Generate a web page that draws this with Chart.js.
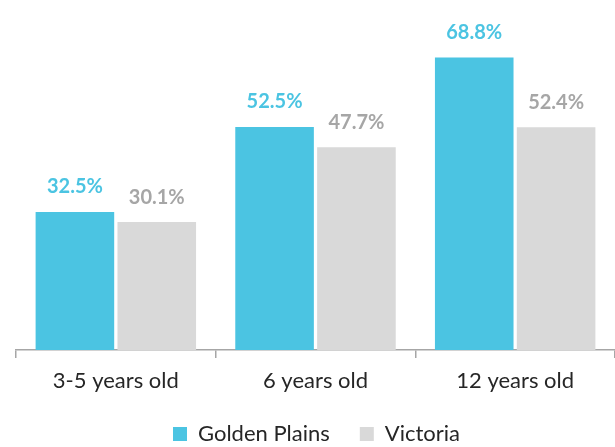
<!DOCTYPE html>
<html><head><meta charset="utf-8">
<script src="https://cdn.jsdelivr.net/npm/chart.js@4"></script>
<style>html,body{margin:0;padding:0;background:#fff}</style>
</head><body>
<canvas id="c" width="615" height="447"></canvas>
<script>
const categories = ["3-5 years old", "6 years old", "12 years old"];
const goldenPlains = [32.5, 52.5, 68.8];
const victoria = [30.1, 47.7, 52.4];
const seriesNames = ["Golden Plains", "Victoria"];

const valueLabels = {
  id: 'valueLabels',
  afterDatasetsDraw(chart) {
    const ctx = chart.ctx;
    chart.data.datasets.forEach((ds, i) => {
      const meta = chart.getDatasetMeta(i);
      meta.data.forEach((bar, j) => {
        ctx.save();
        ctx.font = 'bold 20px Lato';
        ctx.fillStyle = ds.labelColor;
        ctx.textAlign = 'center';
        ctx.textBaseline = 'middle';
        ctx.fillText(ds.data[j].toFixed(1) + '%', bar.x, bar.y - 25);
        ctx.restore();
      });
    });
  }
};

new Chart(document.getElementById('c'), {
  type: 'bar',
  data: {
    labels: categories,
    datasets: [
      { label: seriesNames[0], data: goldenPlains, backgroundColor: '#4bc4e2', labelColor: '#4bc4e2',
        categoryPercentage: 0.82, barPercentage: 0.96 },
      { label: seriesNames[1], data: victoria, backgroundColor: '#d9d9d9', labelColor: '#a6a6a6',
        categoryPercentage: 0.82, barPercentage: 0.96 }
    ]
  },
  options: {
    responsive: false,
    animation: false,
    layout: { padding: { left: 16, right: -2, top: 10, bottom: -8 } },
    plugins: {
      legend: {
        position: 'bottom',
        labels: { boxWidth: 14, boxHeight: 14, padding: 30, color: '#262626',
          font: { family: 'Lato', size: 22 } }
      },
      tooltip: { enabled: false }
    },
    scales: {
      x: {
        grid: { display: true, drawOnChartArea: false, drawTicks: true, tickLength: 8,
          color: '#a6a6a6', lineWidth: 1.5, offset: true },
        border: { display: true, color: '#a6a6a6', width: 1.5 },
        ticks: { color: '#262626', font: { family: 'Lato', size: 22 }, padding: 10 },
        afterFit(s) { s.height = 43; }
      },
      y: { display: false, min: 0, max: 80 }
    }
  },
  plugins: [valueLabels]
});
</script>
</body></html>
